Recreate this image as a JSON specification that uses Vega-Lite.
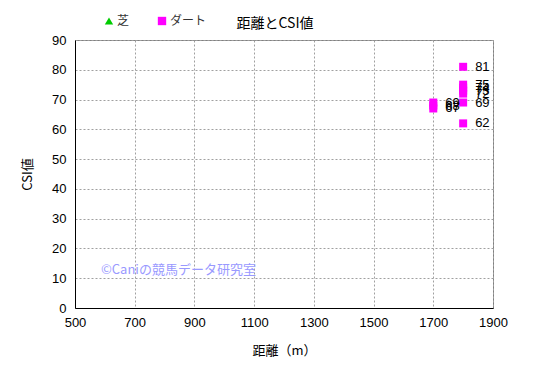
{
  "$schema": "https://vega.github.io/schema/vega-lite/v6.json",
  "width": 418,
  "height": 268,
  "autosize": {"type": "none"},
  "padding": {"left": 75, "top": 40, "right": 52, "bottom": 69},
  "background": "white",
  "title": {"text": "距離とCSI値", "fontSize": 14, "fontWeight": "normal", "font": "Noto Sans CJK JP", "color": "#000000", "anchor": "middle", "offset": 8, "dx": -9, "dy": 24},
  "config": {
    "view": {"stroke": "#808080", "strokeWidth": 1},
    "font": "Liberation Sans",
    "axis": {"labelFont": "Liberation Sans", "labelFontSize": 13, "labelColor": "#000000", "titleFont": "Noto Sans CJK JP", "titleFontSize": 13, "titleFontWeight": "normal", "titleColor": "#000000", "ticks": false, "domainColor": "#000000", "gridColor": "#a0a0a0", "gridDash": [2, 2], "gridWidth": 1, "labelOverlap": false, "labelFlush": false}
  },
  "datasets": {
    "pts": [
      {"distance": 1800, "csi": 81, "surface": "ダート"},
      {"distance": 1800, "csi": 75, "surface": "ダート"},
      {"distance": 1800, "csi": 74, "surface": "ダート"},
      {"distance": 1800, "csi": 73, "surface": "ダート"},
      {"distance": 1800, "csi": 72, "surface": "ダート"},
      {"distance": 1800, "csi": 69, "surface": "ダート"},
      {"distance": 1800, "csi": 62, "surface": "ダート"},
      {"distance": 1700, "csi": 69, "surface": "ダート"},
      {"distance": 1700, "csi": 68, "surface": "ダート"},
      {"distance": 1700, "csi": 67, "surface": "ダート"}
    ],
    "mark": [
      {"distance": 587, "csi": 12.8, "label": "©Caniの競馬データ研究室"}
    ]
  },
  "encoding": {
    "x": {"field": "distance", "type": "quantitative", "scale": {"domain": [500, 1900], "nice": false, "zero": false}, "axis": {"values": [500, 700, 900, 1100, 1300, 1500, 1700, 1900], "format": "d", "title": "距離（m）", "labelPadding": 8, "titlePadding": 15}},
    "y": {"field": "csi", "type": "quantitative", "scale": {"domain": [0, 90], "nice": false}, "axis": {"values": [0, 10, 20, 30, 40, 50, 60, 70, 80, 90], "title": "CSI値", "labelPadding": 9, "titlePadding": 17}}
  },
  "layer": [
    {
      "data": {"name": "pts"},
      "mark": {"type": "point", "filled": true, "size": 64, "opacity": 1},
      "encoding": {
        "color": {"field": "surface", "type": "nominal", "scale": {"domain": ["芝", "ダート"], "range": ["#00cc00", "#ff00ff"]}, "legend": {"orient": "none", "legendX": 28, "legendY": -25, "direction": "horizontal", "title": null, "labelFont": "Noto Sans CJK JP", "labelFontSize": 12, "labelColor": "#333333", "symbolSize": 70, "columnPadding": 26, "symbolStrokeWidth": 1, "labelOffset": 2}},
        "shape": {"field": "surface", "type": "nominal", "scale": {"domain": ["芝", "ダート"], "range": ["triangle-up", "square"]}, "legend": null}
      }
    },
    {
      "data": {"name": "pts"},
      "mark": {"type": "text", "align": "left", "baseline": "middle", "dx": 12, "fontSize": 13, "font": "Liberation Sans", "color": "#000000"},
      "encoding": {
        "text": {"field": "csi", "type": "quantitative"}
      }
    },
    {
      "data": {"name": "mark"},
      "mark": {"type": "text", "align": "left", "baseline": "middle", "fontSize": 13, "font": "Noto Sans CJK JP", "color": "#9999ff"},
      "encoding": {
        "text": {"field": "label", "type": "nominal"}
      }
    }
  ]
}
